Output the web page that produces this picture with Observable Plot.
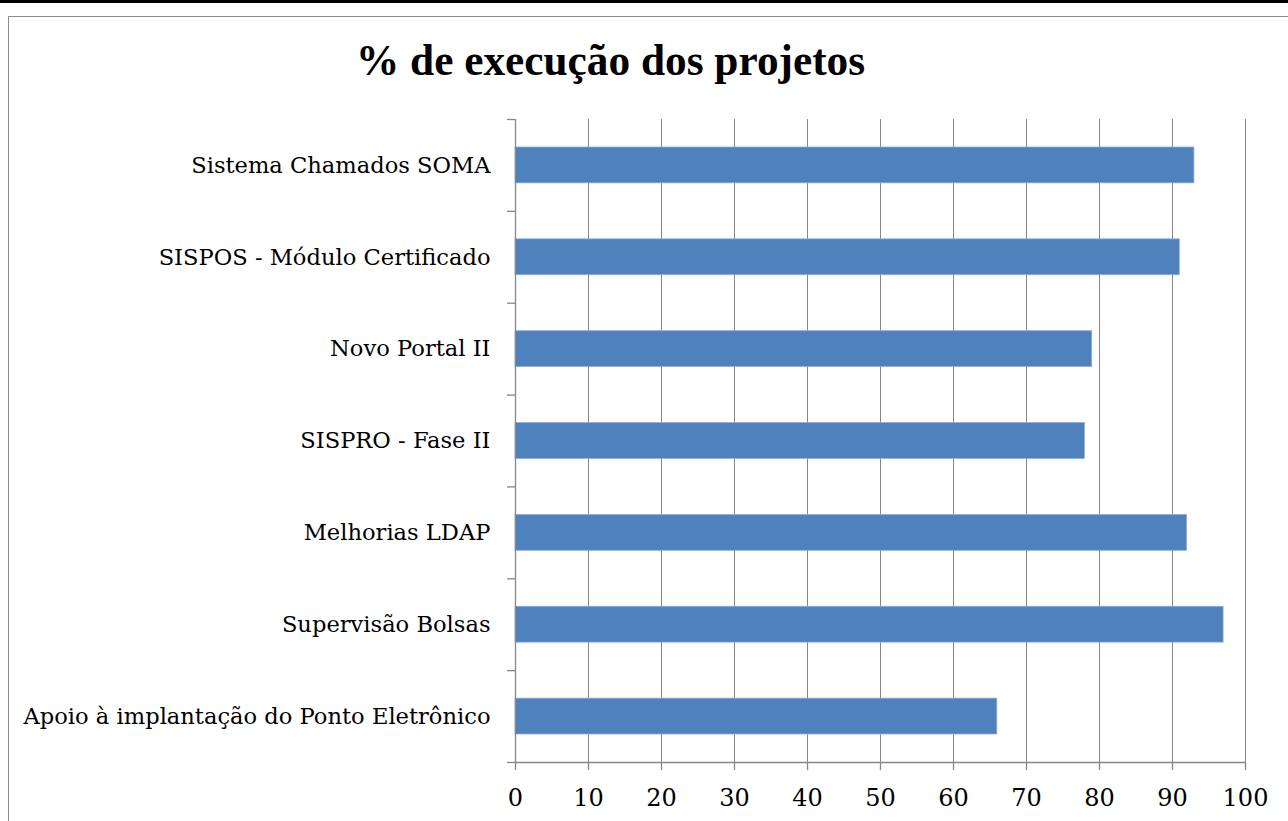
<!DOCTYPE html>
<html>
<head>
<meta charset="utf-8">
<script src="https://cdn.jsdelivr.net/npm/d3@7"></script>
<script src="https://cdn.jsdelivr.net/npm/@observablehq/plot@0.6"></script>
<style>
  html, body { margin: 0; padding: 0; background: #fff; width: 1288px; height: 821px; overflow: hidden; }
  #topbar { position: absolute; left: 0; top: 0; width: 1288px; height: 3px; background: #000; z-index: 3; }
  #frame { position: absolute; left: 8px; top: 16px; width: 1400px; height: 900px; border: 1px solid #8c8c8c; box-sizing: border-box; z-index: 2; pointer-events: none; }
  #title { position: absolute; left: 356px; top: 39px; font-family: "Liberation Serif", serif; font-weight: bold; font-size: 43.3px; line-height: 43px; white-space: nowrap; color: #000; z-index: 2; }
  #chart { position: absolute; left: 0; top: 0; z-index: 1; }
</style>
</head>
<body>
<div id="topbar"></div>
<div id="frame"></div>
<div id="title">% de execução dos projetos</div>
<div id="chart"></div>
<script>
const categories = [
  "Sistema Chamados SOMA",
  "SISPOS - Módulo Certificado",
  "Novo Portal II",
  "SISPRO - Fase II",
  "Melhorias LDAP",
  "Supervisão Bolsas",
  "Apoio à implantação do Ponto Eletrônico"
];
const values = [93, 91, 79, 78, 92, 97, 66];
const xTicks = [0, 10, 20, 30, 40, 50, 60, 70, 80, 90, 100];

const data = categories.map((name, i) => ({name, value: values[i], i}));
const boundaries = d3.range(categories.length + 1);
const centers = d3.range(categories.length).map(i => i + 0.5);
const gray = "#878787";

const plot = Plot.plot({
  width: 1288,
  height: 821,
  marginLeft: 515,
  marginRight: 43,
  marginTop: 119,
  marginBottom: 59,
  style: {background: "transparent", fontFamily: "DejaVu Serif", color: "#000"},
  x: {domain: [0, 100], label: null},
  y: {domain: [0, categories.length], reverse: true, label: null},
  marks: [
    Plot.ruleX(xTicks.filter(t => t > 0), {stroke: gray, strokeWidth: 1}),
    Plot.rect(data, {
      x1: () => 0, x2: d => d.value,
      y1: d => d.i, y2: d => d.i + 1,
      insetTop: 28, insetBottom: 28,
      fill: "#4F81BD", stroke: "#8eaed6", strokeWidth: 0.8
    }),
    Plot.ruleX([0], {stroke: gray, strokeWidth: 1.3}),
    Plot.ruleY([categories.length], {stroke: gray, strokeWidth: 1.3}),
    Plot.axisY({ticks: boundaries, tickSize: 8, tickFormat: () => "", stroke: gray, strokeWidth: 1.3, label: null}),
    Plot.axisY({ticks: centers, tickSize: 0, tickPadding: 25, tickFormat: v => categories[Math.floor(v)], fontSize: 22.6, label: null}),
    Plot.axisX({ticks: xTicks, tickSize: 8, tickPadding: 18, fontSize: 24, stroke: gray, strokeWidth: 1.3, label: null})
  ]
});
document.getElementById("chart").appendChild(plot);
</script>
</body>
</html>
